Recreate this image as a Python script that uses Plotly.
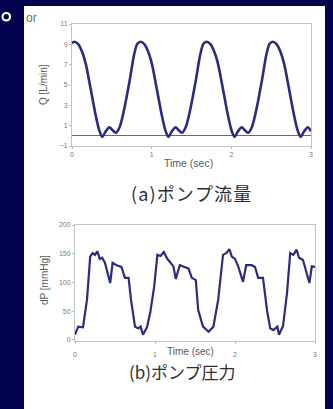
import plotly.graph_objects as go

W, H = 333, 409

# ---- data ----
t_q = [0, 0.03, 0.08, 0.13, 0.175, 0.23, 0.29, 0.34, 0.38, 0.42, 0.47, 0.51, 0.55, 0.60, 0.66, 0.725, 0.78, 0.82,
       0.86, 0.91, 0.96, 1.005, 1.06, 1.12, 1.17, 1.21, 1.25, 1.30, 1.34, 1.38, 1.43, 1.49, 1.555, 1.61, 1.65,
       1.69, 1.74, 1.79, 1.835, 1.89, 1.95, 2.00, 2.04, 2.08, 2.13, 2.17, 2.21, 2.26, 2.32, 2.385, 2.44, 2.48,
       2.52, 2.57, 2.62, 2.665, 2.72, 2.78, 2.83, 2.87, 2.91, 2.96, 3.0]
q_flow = [9.1, 9.25, 9.0, 8.2, 7.0, 4.8, 2.3, 0.6, -0.1, 0.4, 0.85, 0.55, 0.3, 0.9, 2.8, 5.5, 8.0, 9.05,
          9.25, 9.0, 8.2, 7.0, 4.8, 2.3, 0.6, -0.1, 0.4, 0.85, 0.55, 0.3, 0.9, 2.8, 5.5, 8.0, 9.05,
          9.25, 9.0, 8.2, 7.0, 4.8, 2.3, 0.6, -0.1, 0.4, 0.85, 0.55, 0.3, 0.9, 2.8, 5.5, 8.0, 9.05,
          9.25, 9.0, 8.2, 7.0, 4.8, 2.3, 0.6, -0.1, 0.4, 0.85, 0.45]

t_p = [0.0, 0.04, 0.1, 0.15, 0.19, 0.22, 0.25, 0.28, 0.31, 0.34, 0.375, 0.44, 0.47, 0.52, 0.58, 0.625, 0.67, 0.70,
       0.75, 0.79, 0.82, 0.85, 0.9, 0.94, 0.99, 1.03, 1.07, 1.11, 1.15, 1.19, 1.23, 1.26, 1.31, 1.37, 1.42, 1.46,
       1.51, 1.54, 1.60, 1.67, 1.73, 1.79, 1.85, 1.89, 1.93, 1.96, 2.0, 2.04, 2.10, 2.14, 2.21, 2.25, 2.29, 2.35,
       2.40, 2.44, 2.48, 2.53, 2.55, 2.6, 2.65, 2.69, 2.73, 2.77, 2.8, 2.85, 2.9, 2.93, 2.96, 3.0]
dp = [9, 23, 22, 70, 145, 151, 148, 154, 141, 143, 134, 99, 134, 130, 127, 108, 108, 70,
      23, 20, 23, 9, 22, 47, 93, 148, 146, 153, 142, 134, 128, 106, 130, 127, 124, 108,
      104, 52, 23, 14, 23, 70, 148, 151, 158, 145, 141, 128, 101, 130, 130, 127, 108, 108,
      52, 20, 17, 23, 9, 24, 81, 151, 148, 157, 143, 139, 116, 99, 128, 127]

q_ticks = [11, 9, 7, 5, 3, 1, -1]
p_ticks = [0, 50, 100, 150, 200]
t_ticks = [0, 1, 2, 3]

caption_a = "(a)ポンプ流量"
caption_b = "(b)ポンプ圧力"

NAVY = "#03034f"
LINE = "#2b2b82"
FONT = "Liberation Sans"
CJK = "Noto Sans CJK JP"


def fx(px):
    return px / W


def fy(py):
    return 1 - py / H


fig = go.Figure()
fig.add_trace(go.Scatter(x=t_q, y=q_flow, mode="lines", xaxis="x", yaxis="y",
                         line=dict(color=LINE, width=2.6, shape="spline", smoothing=0.8)))
fig.add_trace(go.Scatter(x=t_p, y=dp, mode="lines", xaxis="x2", yaxis="y2",
                         line=dict(color=LINE, width=2.2)))

axcommon = dict(showgrid=False, showline=True, mirror=True, linecolor="#c4c4c4", linewidth=1,
                ticks="outside", ticklen=2, tickcolor="#bbbbbb", automargin=False,
                tickfont=dict(family=FONT, size=7, color="#7a7a7a"))

fig.update_layout(
    width=W, height=H, margin=dict(l=0, r=0, t=0, b=0, pad=0, autoexpand=False),
    paper_bgcolor=NAVY, plot_bgcolor="white", showlegend=False,
    xaxis=dict(domain=[fx(72), fx(311)], range=[0, 3], tickvals=t_ticks, anchor="y",
               zeroline=False, **axcommon),
    yaxis=dict(domain=[fy(146), fy(24)], range=[-1, 11], tickvals=q_ticks, anchor="x",
               zeroline=True, zerolinecolor="#6a6a6a", zerolinewidth=1, **axcommon),
    xaxis2=dict(domain=[fx(75), fx(315)], range=[0, 3], tickvals=t_ticks, anchor="y2",
                zeroline=False, ticklabelstandoff=5, **axcommon),
    yaxis2=dict(domain=[fy(341), fy(225)], range=[-2, 200], tickvals=p_ticks, anchor="x2",
                zeroline=False, **axcommon),
)

shapes = [
    dict(type="rect", xref="paper", yref="paper", x0=fx(24), x1=fx(325), y0=0, y1=fy(6),
         fillcolor="white", line=dict(width=0), layer="below"),
    dict(type="circle", xref="paper", yref="paper", x0=fx(2.5), x1=fx(10), y0=fy(20.5), y1=fy(13),
         fillcolor=NAVY, line=dict(color="white", width=2.2)),
]
fig.update_layout(shapes=shapes)

HS = "\u200a"
ann = [
    dict(text="or", x=fx(24), y=fy(18), xanchor="left", yanchor="middle",
         font=dict(family=FONT, size=12, color="#6e6e6e")),
    dict(text="Q [L/min]", x=fx(43), y=fy(85), textangle=-90, xanchor="center", yanchor="middle",
         font=dict(family=FONT, size=10, color="#5a5a5a")),
    dict(text="Time (sec)", x=fx(188), y=fy(163), xanchor="center", yanchor="middle",
         font=dict(family=FONT, size=10.5, color="#5a5a5a")),
    dict(text=HS.join(caption_a), x=fx(191), y=fy(193), xanchor="center", yanchor="middle",
         font=dict(family=CJK, size=18, color="#2e2e2e")),
    dict(text="dP [mmHg]", x=fx(44), y=fy(280), textangle=-90, xanchor="center", yanchor="middle",
         font=dict(family=FONT, size=10, color="#5a5a5a")),
    dict(text="Time (sec)", x=fx(190), y=fy(351), xanchor="center", yanchor="middle",
         font=dict(family=FONT, size=10, color="#5a5a5a")),
    dict(text=caption_b, x=fx(182), y=fy(371), xanchor="center", yanchor="middle",
         font=dict(family=CJK, size=17, color="#2e2e2e")),
]
for a in ann:
    a.update(xref="paper", yref="paper", showarrow=False)
fig.update_layout(annotations=ann)

fig.write_html("out.html", config={"displayModeBar": False},
               post_script="document.body.style.margin='0';document.body.style.background='%s';" % NAVY)
